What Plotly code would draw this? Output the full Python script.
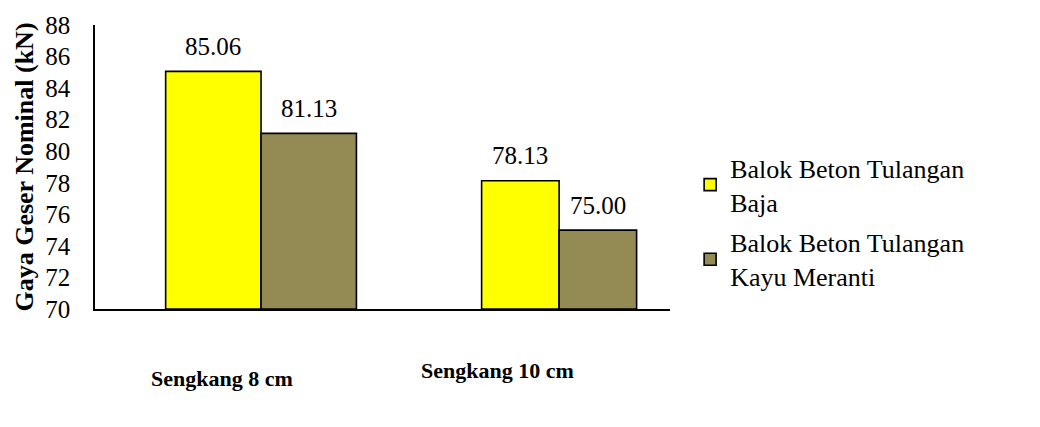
import plotly.graph_objects as go

# Shear capacity of reinforced beams by stirrup spacing
categories = ["Sengkang 8 cm", "Sengkang 10 cm"]
series_names = ["Balok Beton Tulangan<br>Baja", "Balok Beton Tulangan<br>Kayu Meranti"]
baja = [85.06, 78.13]
meranti = [81.13, 75.00]
y_ticks = [70, 72, 74, 76, 78, 80, 82, 84, 86, 88]

FONT = "Liberation Serif, Times New Roman, serif"
colors = ["#FFFF00", "#948A54"]
bar_w = [0.32, 0.26]

fig = go.Figure()
for i, (name, vals) in enumerate(zip(series_names, [baja, meranti])):
    offsets = [-w if i == 0 else 0 for w in bar_w]
    fig.add_trace(go.Bar(
        x=[0, 1], y=[v - 70 for v in vals], base=70,
        name=name,
        width=bar_w,
        offset=offsets,
        marker=dict(color=colors[i], line=dict(color="black", width=1.6)),
        legendgroup=f"g{i}",
    ))
    # value labels floating above each bar
    for xc, off, w, v in zip([0, 1], offsets, bar_w, vals):
        fig.add_annotation(
            x=xc + off + w / 2, y=v, xref="x", yref="y",
            text=f"{v:.2f}", showarrow=False, yshift=25,
            font=dict(family=FONT, size=25, color="black"),
            xanchor="center", yanchor="middle",
        )

# category labels placed well below the axis line
label_pos = [(222, 380), (497, 372)]
for cat, (px, py) in zip(categories, label_pos):
    fig.add_annotation(
        text=f"<b>{cat}</b>", xref="paper", yref="paper",
        x=(px - 95) / 575, y=(309 - py) / 289,
        showarrow=False, font=dict(family=FONT, size=22, color="black"),
        xanchor="center", yanchor="middle",
    )

fig.update_layout(
    width=1040, height=427,
    margin=dict(l=95, r=370, t=18, b=118),
    paper_bgcolor="white", plot_bgcolor="white",
    barmode="overlay",
    showlegend=True,
    legend=dict(
        x=1.035, y=0.58, xanchor="left", yanchor="top",
        font=dict(family=FONT, size=26, color="black"),
        tracegroupgap=4, itemclick=False,
    ),
    xaxis=dict(
        range=[-0.557, 1.372], showticklabels=False, ticks="",
        showgrid=False, zeroline=False,
        showline=True, linecolor="black", linewidth=1.6,
    ),
    yaxis=dict(
        range=[70, 88], tickvals=y_ticks, ticks="", showgrid=False, zeroline=False,
        showline=True, linecolor="black", linewidth=1.6,
        tickfont=dict(family=FONT, size=25, color="black"),
        ticklabelstandoff=18,
        title=dict(text="<b>Gaya Geser Nominal (kN)</b>",
                   font=dict(family=FONT, size=26, color="black"), standoff=4),
    ),
)

fig.write_html("out.html")
